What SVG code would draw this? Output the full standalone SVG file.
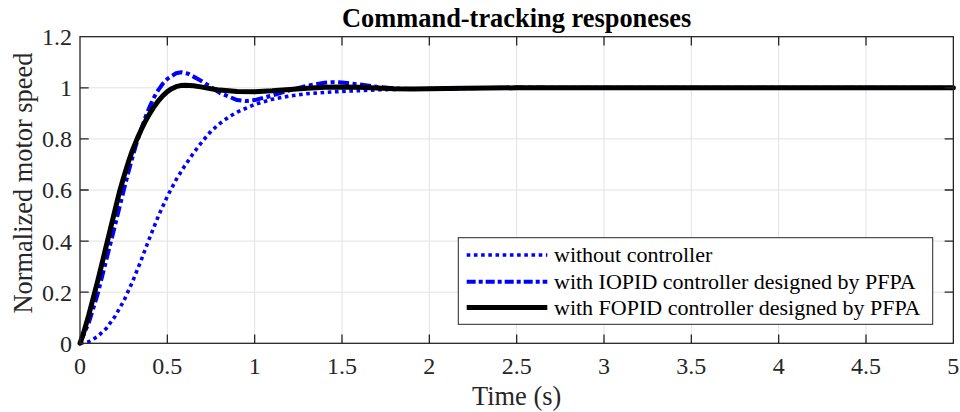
<svg xmlns="http://www.w3.org/2000/svg" width="960" height="412" viewBox="0 0 960 412">
<style>
.grid{stroke:#e2e2e2;stroke-width:1;fill:none}
.axis{stroke:#262626;stroke-width:1.3;fill:none}
.tick{font-family:"Liberation Serif","Times New Roman",serif;font-size:24px;fill:#262626}
.lab{font-family:"Liberation Serif","Times New Roman",serif;font-size:26.4px;fill:#262626}
.title{font-family:"Liberation Serif","Times New Roman",serif;font-size:26.4px;font-weight:bold;fill:#000}
.leg{font-family:"Liberation Serif","Times New Roman",serif;font-size:22px;fill:#000}
.dot{stroke:#0000ff;stroke-width:3.6;fill:none;stroke-dasharray:3.6 3.6}
.dash{stroke:#0000ff;stroke-width:4;fill:none;stroke-dasharray:11 3.5 4 3.5;stroke-linejoin:round}
.solid{stroke:#000;stroke-width:5;fill:none;stroke-linejoin:round;stroke-linecap:round}
</style>
<rect x="0" y="0" width="960" height="412" fill="#fff"/>
<g id="grid">
<path class="grid" d="M167.33 36.7V343.3M254.67 36.7V343.3M342 36.7V343.3M429.34 36.7V343.3M516.67 36.7V343.3M604 36.7V343.3M691.34 36.7V343.3M778.67 36.7V343.3M866 36.7V343.3M80 292.2H953.35M80 241.1H953.35M80 190H953.35M80 138.9H953.35M80 87.8H953.35"/>
</g>
<g id="curves">
<polyline id="no-controller" class="dot" points="80,343.3 88.73,341.77 97.47,336.66 106.2,328.48 114.93,316.47 123.67,301.14 132.4,281.98 141.13,260.26 149.87,237.27 158.6,215.55 167.33,196.39 176.07,179.78 184.8,165.73 193.54,152.95 202.27,141.46 211,131.23 219.74,123.57 228.47,117.18 237.2,112.07 254.67,104.41 272.14,99.3 289.6,95.98 307.07,93.68 324.54,92.4 342,91.38 376.94,89.84 429.34,88.57 516.67,87.8 953.35,87.8"/>
<polyline id="iopid" class="dash" points="80,343.3 88.73,322.86 97.47,294.76 106.2,260.26 114.93,225.77 119.3,208 123.67,190.5 128.03,173.5 132.4,157.5 136.77,142.5 141.13,129.5 145.5,117 149.87,106.2 154.23,97 158.6,89.6 162.97,83.5 167.33,78.86 176.07,73.24 181.31,72.21 188.3,73.75 202.27,81.41 219.74,92.91 237.2,100.06 245.94,101.08 254.67,100.06 272.14,95.46 289.6,90.36 307.07,85.76 324.54,82.69 333.27,82.18 342,82.44 359.47,84.48 376.94,86.78 394.4,88.31 411.87,89.08 429.34,89.08 464.27,88.31 516.67,87.54 604,87.8 953.35,87.8"/>
<polyline id="fopid" class="solid" points="80,343.3 83.49,333.08 88.73,315.2 97.47,281.98 106.2,246.21 114.93,210.44 119.3,192.55 123.67,177.2 128.03,163.17 132.4,150.4 137.64,137.62 141.13,129.96 145.5,121 149.87,113.35 154.23,106.5 158.6,100.58 162.97,95.6 167.33,91.63 171.7,88.7 176.07,86.7 180.43,85.6 184.8,85.25 193.54,85.76 202.27,87.1 211,88.7 219.74,90.1 237.2,91.5 254.67,91.63 272.14,90.86 289.6,89.58 307.07,88.31 324.54,87.29 342,87.04 359.47,87.29 376.94,88.06 394.4,88.7 411.87,88.9 429.34,88.82 464.27,88.31 516.67,87.8 953.35,87.8"/>
</g>
<g id="axes">
<rect class="axis" x="80" y="36.7" width="873.35" height="306.6"/>
<path class="axis" d="M167.33 343.3v-8.7M254.67 343.3v-8.7M342 343.3v-8.7M429.34 343.3v-8.7M516.67 343.3v-8.7M604 343.3v-8.7M691.34 343.3v-8.7M778.67 343.3v-8.7M866 343.3v-8.7M167.33 36.7v8.7M254.67 36.7v8.7M342 36.7v8.7M429.34 36.7v8.7M516.67 36.7v8.7M604 36.7v8.7M691.34 36.7v8.7M778.67 36.7v8.7M866 36.7v8.7M80 292.2h8.7M80 241.1h8.7M80 190h8.7M80 138.9h8.7M80 87.8h8.7M953.35 292.2h-8.7M953.35 241.1h-8.7M953.35 190h-8.7M953.35 138.9h-8.7M953.35 87.8h-8.7"/>
</g>
<g id="xticklabels" class="tick" text-anchor="middle">
<text x="80" y="374">0</text>
<text x="167.33" y="374">0.5</text>
<text x="254.67" y="374">1</text>
<text x="342" y="374">1.5</text>
<text x="429.34" y="374">2</text>
<text x="516.67" y="374">2.5</text>
<text x="604" y="374">3</text>
<text x="691.34" y="374">3.5</text>
<text x="778.67" y="374">4</text>
<text x="866" y="374">4.5</text>
<text x="953.35" y="374">5</text>
</g>
<g id="yticklabels" class="tick" text-anchor="end">
<text x="72" y="351.7">0</text>
<text x="72" y="300.6">0.2</text>
<text x="72" y="249.5">0.4</text>
<text x="72" y="198.4">0.6</text>
<text x="72" y="147.3">0.8</text>
<text x="72" y="96.2">1</text>
<text x="72" y="45.1">1.2</text>
</g>
<g id="labels">
<text class="title" x="516.67" y="27" text-anchor="middle">Command-tracking responeses</text>
<text class="lab" x="516.67" y="405" text-anchor="middle">Time (s)</text>
<text class="lab" x="31.7" y="183" text-anchor="middle" transform="rotate(-90 31.7 183)">Normalized motor speed</text>
</g>
<g id="legend">
<rect x="458.3" y="237.7" width="474.4" height="86.6" fill="#fff" stroke="#262626" stroke-width="1"/>
<line class="dot" x1="466.7" y1="255" x2="547.3" y2="255"/>
<line class="dash" x1="466.7" y1="281.8" x2="547.3" y2="281.8" style="stroke-dasharray:9 3 4 3"/>
<line x1="466.7" y1="307.5" x2="547.3" y2="307.5" stroke="#000" stroke-width="5"/>
<text class="leg" x="554" y="262">without controller</text>
<text class="leg" x="554" y="288.8">with IOPID controller designed by PFPA</text>
<text class="leg" x="554" y="315">with FOPID controller designed by PFPA</text>
</g>
</svg>
